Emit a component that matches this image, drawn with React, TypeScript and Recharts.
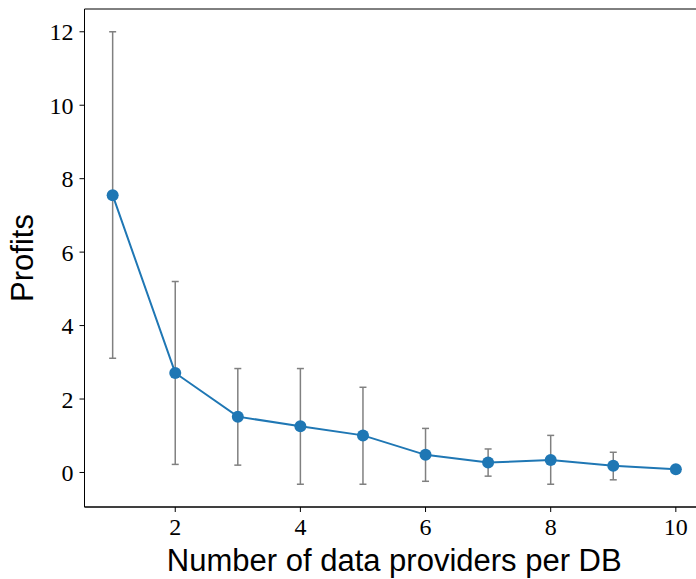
import {
  ComposedChart,
  Line,
  XAxis,
  YAxis,
  ErrorBar,
  ReferenceArea,
  Label,
} from "recharts";

// number of data providers per DB
const providers = [1, 2, 3, 4, 5, 6, 7, 8, 9, 10];
// mean profits
const profits = [7.55, 2.71, 1.52, 1.26, 1.01, 0.48, 0.27, 0.34, 0.18, 0.09];
// error bar ends (low / high)
const errLow = [3.11, 0.22, 0.2, -0.32, -0.32, -0.24, -0.1, -0.32, -0.2, 0.01];
const errHigh = [12.0, 5.2, 2.83, 2.83, 2.32, 1.2, 0.64, 1.01, 0.55, 0.17];

const xTicks = [2, 4, 6, 8, 10];
const yTicks = [0, 2, 4, 6, 8, 10, 12];

const data = providers.map((p, i) => ({
  x: p,
  y: profits[i],
  err: [profits[i] - errLow[i], errHigh[i] - profits[i]],
}));

const tickFont = { fontFamily: "Liberation Serif", fontSize: 24, fill: "#000" };
const labelFont = { fontFamily: "Liberation Sans", fontSize: 31, fill: "#000" };

export default function App() {
  return (
    <div
      style={{
        position: "fixed",
        left: 0,
        top: 0,
        width: 696,
        height: 579,
        overflow: "hidden",
        background: "#fff",
      }}
    >
      <ComposedChart
        width={720}
        height={579}
        data={data}
        margin={{ top: 9, right: 16, left: 0, bottom: 0 }}
      >
        <XAxis
          dataKey="x"
          type="number"
          domain={[0.55, 10.45]}
          ticks={xTicks}
          tick={tickFont}
          tickSize={5}
          tickMargin={6}
          height={72}
          stroke="#000"
          allowDataOverflow
        >
          <Label
            value="Number of data providers per DB"
            position="insideBottom"
            offset={8}
            style={labelFont}
          />
        </XAxis>
        <YAxis
          type="number"
          domain={[-0.94, 12.62]}
          ticks={yTicks}
          tick={tickFont}
          tickSize={5}
          tickMargin={6}
          width={84.5}
          stroke="#000"
          allowDataOverflow
        >
          <Label
            value="Profits"
            angle={-90}
            position="insideLeft"
            offset={22}
            style={{ ...labelFont, textAnchor: "middle" }}
          />
        </YAxis>
        <ReferenceArea
          x1={0.55}
          x2={10.45}
          y1={-0.94}
          y2={12.62}
          fill="none"
          stroke="#000"
          strokeWidth={1}
        />
        <Line
          dataKey="y"
          stroke="#1f77b4"
          strokeWidth={2}
          dot={{ r: 6, fill: "#1f77b4", stroke: "#1f77b4", strokeWidth: 0 }}
          isAnimationActive={false}
        >
          <ErrorBar
            dataKey="err"
            width={3.5}
            stroke="#808080"
            strokeWidth={1.5}
            direction="y"
          />
        </Line>
      </ComposedChart>
    </div>
  );
}
